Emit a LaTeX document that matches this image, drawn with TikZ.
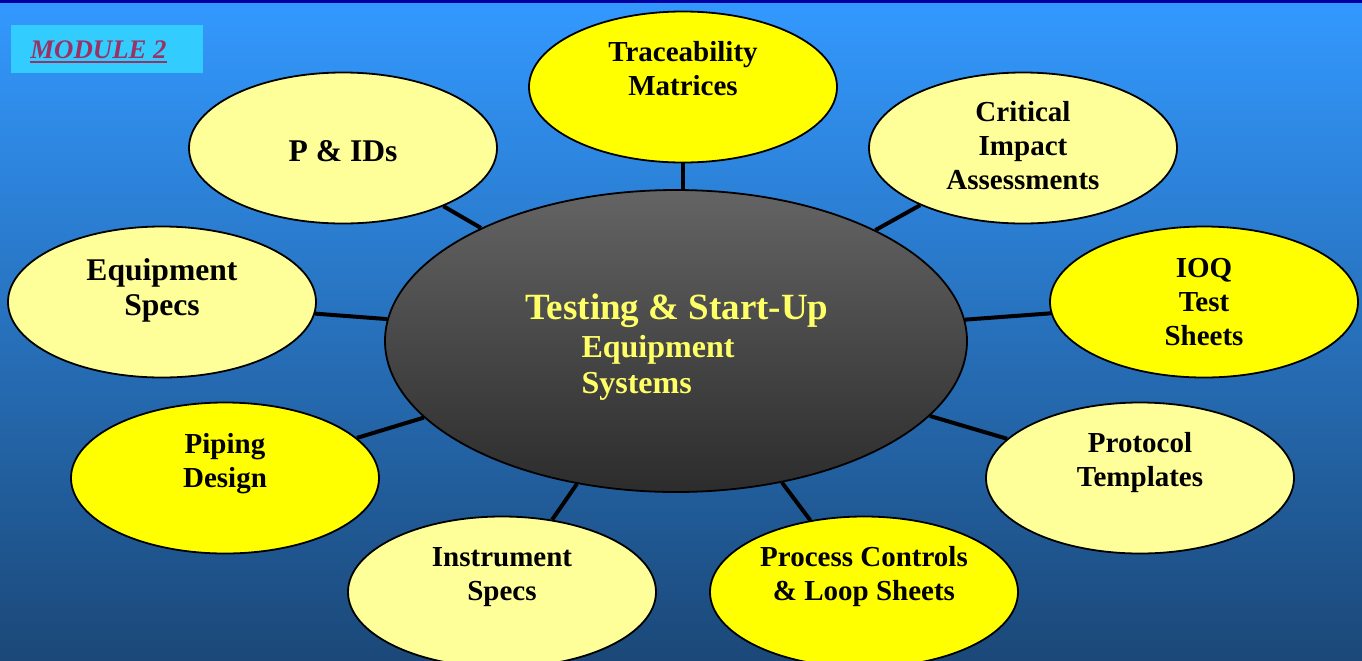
\documentclass[tikz,border=0pt]{standalone}
\usepackage{fontspec}
\setmainfont{Liberation Serif}
\usetikzlibrary{shapes.geometric}

\definecolor{skytop}{HTML}{3399FF}
\definecolor{skymid}{HTML}{2B7BCC}
\definecolor{skybottom}{HTML}{1B4878}
\definecolor{frameline}{HTML}{0000A0}
\definecolor{modulefill}{HTML}{33CCFF}
\definecolor{moduletext}{HTML}{993366}
\definecolor{hubtop}{HTML}{646464}
\definecolor{hubbottom}{HTML}{2C2C2C}
\definecolor{hubtext}{HTML}{FFFF66}
\definecolor{bright}{HTML}{FFFF00}
\definecolor{pale}{HTML}{FFFF99}

\tikzset{
    bubble/.style={ellipse, draw=black, line width=0.9pt, minimum width=154pt, minimum height=75.5pt, inner sep=0pt},
    bubbletext/.style={align=center, inner sep=0pt, font=\bfseries\fontsize{14.5}{17}\selectfont},
    bigtext/.style={bubbletext, font=\bfseries\fontsize{15.8}{17.5}\selectfont},
    hub/.style={ellipse, draw=black, line width=0.9pt, minimum width=291pt, minimum height=151pt, top color=hubtop, bottom color=hubbottom},
    spoke/.style={line width=2pt, black},
}

\begin{document}
\begin{tikzpicture}[x=0.5pt, y=-0.5pt]

    \clip (0,0) rectangle (1362,660);
    \fill[top color=skytop, middle color=skymid, bottom color=skybottom] (0,0) rectangle (1362,660);
    \fill[frameline] (0,0) rectangle (1362,3);

    \node[fill=modulefill, anchor=north west, minimum width=96pt, minimum height=24pt, inner sep=0pt] (module) at (11,25) {};
    \node[anchor=base west, inner sep=0pt, text=moduletext, font=\bfseries\itshape\fontsize{13.4}{16}\selectfont] (modulelabel) at (30,58) {MODULE 2};
    \draw[moduletext, line width=1.1pt] ([yshift=-2pt]modulelabel.base west) -- ([yshift=-2pt]modulelabel.base east);

    \node[hub] (hub) at (676,341) {};
    \node[align=left, inner sep=0pt, text=hubtext, font=\bfseries\fontsize{16}{18}\selectfont] (hublabel) at (677,347)
        {{\fontsize{18.5}{19}\selectfont Testing \& Start-Up}\\[1pt]\hspace*{28pt}Equipment\\\hspace*{28pt}Systems};

    \node[bubble, fill=bright] (trace) at (683,87) {};
    \node[bubble, fill=pale] (pid) at (343,148) {};
    \node[bubble, fill=pale] (impact) at (1023,148) {};
    \node[bubble, fill=pale] (eqspecs) at (162,302) {};
    \node[bubble, fill=bright] (ioq) at (1204,302) {};
    \node[bubble, fill=bright] (piping) at (225,478) {};
    \node[bubble, fill=pale] (protocol) at (1140,478) {};
    \node[bubble, fill=pale] (instspecs) at (502,592) {};
    \node[bubble, fill=bright] (loops) at (864,592) {};

    \node[bubbletext] (trace-t) at (683,69) {Traceability\\Matrices};
    \node[bigtext] (pid-t) at (343,151) {P \& IDs};
    \node[bubbletext] (impact-t) at (1023,146) {Critical\\Impact\\Assessments};
    \node[bigtext] (eqspecs-t) at (162,290) {Equipment\\Specs};
    \node[bubbletext] (ioq-t) at (1204,302) {IOQ\\Test\\Sheets};
    \node[bubbletext] (piping-t) at (225,464) {Piping\\Design};
    \node[bubbletext] (protocol-t) at (1140,463) {Protocol\\Templates};
    \node[bubbletext] (instspecs-t) at (502,577) {Instrument\\Specs};
    \node[bubbletext] (loops-t) at (864,577) {Process Controls\\\& Loop Sheets};

    \draw[spoke] (trace.south) -- (hub.north -| trace.south);
    \foreach \n in {pid, impact, eqspecs, ioq, piping, protocol, instspecs, loops}
        \draw[spoke] (hub) -- (\n);

\end{tikzpicture}
\end{document}
